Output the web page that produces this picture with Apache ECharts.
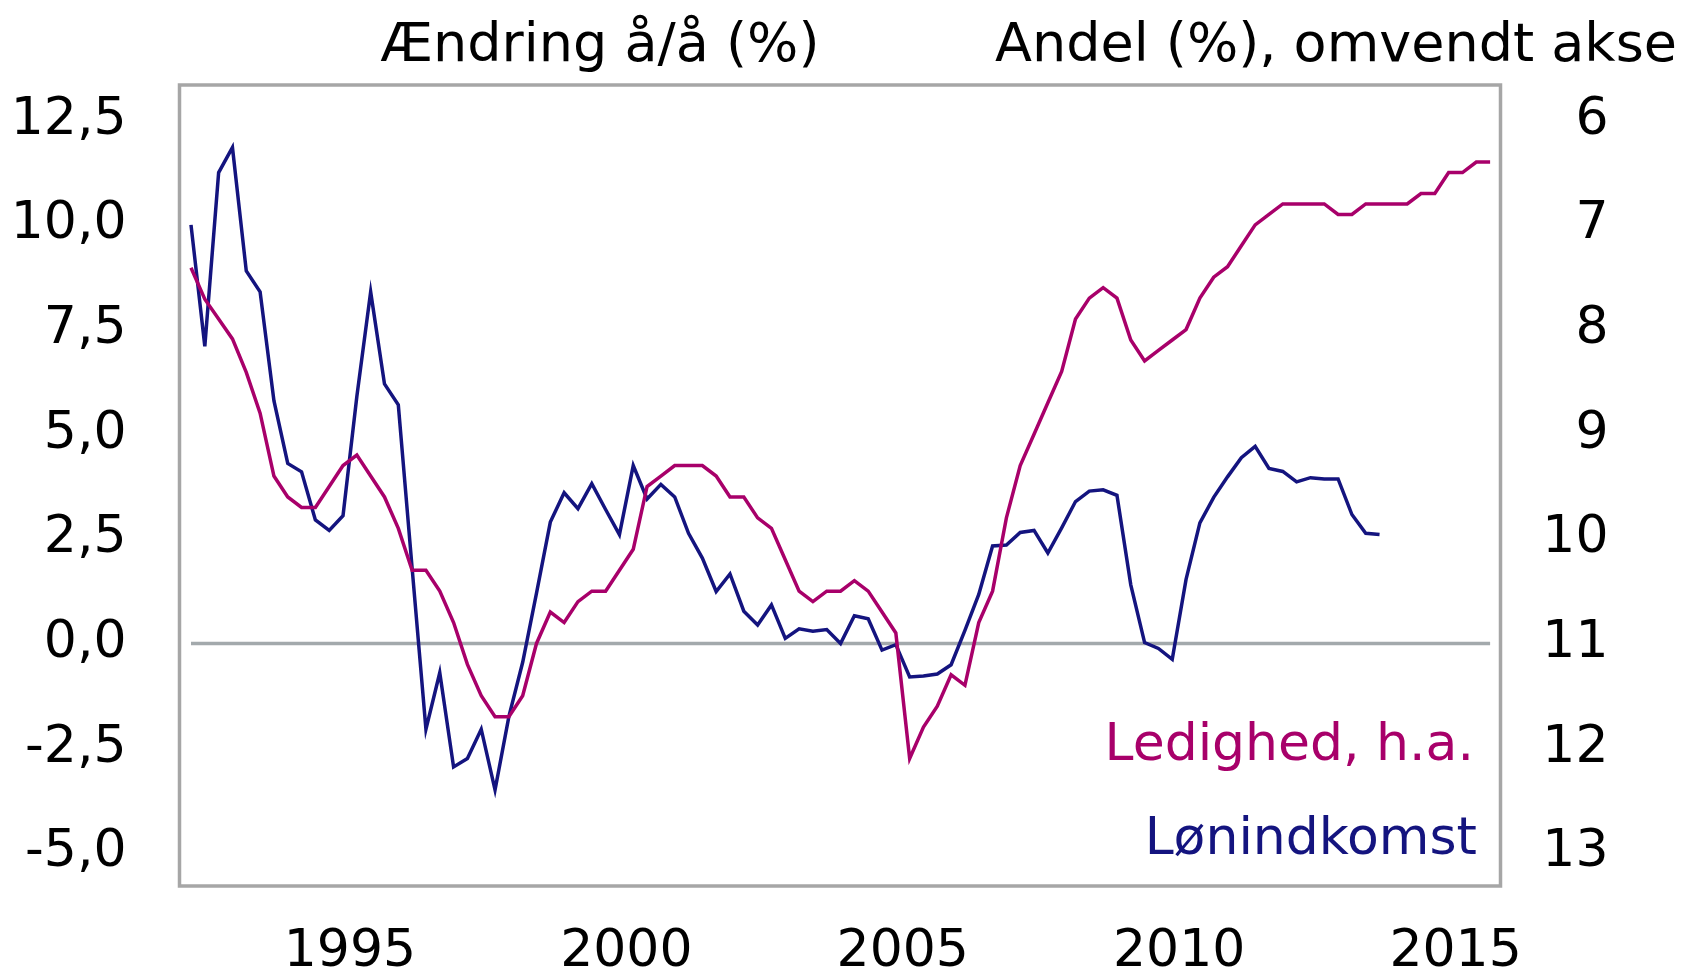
<html>
<meta charset="UTF-8">
<head>
    <script src="https://cdn.jsdelivr.net/npm/echarts@6.0.0/dist/echarts.min.js"></script>
    <style>
        html, body { margin: 0; padding: 0; background: #fff; }
    </style>
</head>
<body>

<div id="chart" style="width:1683px;height:973px;"></div>

</body>
<script>
    // kvartalsdata, første kvartal 1992K1
    var startAar = 1992;

    // Lønindkomst, ændring å/å (%) - venstre akse
    var loenindkomst = [
        10.0, 7.1, 11.25, 11.85, 8.9, 8.4, 5.8, 4.3, 4.1, 2.95,
        2.7, 3.05, 5.9, 8.4, 6.2, 5.7, 1.8, -2.05, -0.7, -2.95,
        -2.75, -2.05, -3.5, -1.75, -0.45, 1.2, 2.9, 3.6, 3.22, 3.82,
        3.2, 2.6, 4.25, 3.45, 3.8, 3.5, 2.63, 2.04, 1.24, 1.66,
        0.77, 0.44, 0.92, 0.12, 0.35, 0.29, 0.33, 0.0, 0.66, 0.59,
        -0.16, -0.03, -0.8, -0.78, -0.73, -0.51, 0.31, 1.17, 2.33, 2.35,
        2.65, 2.7, 2.16, 2.76, 3.39, 3.64, 3.67, 3.54, 1.4, 0.02,
        -0.12, -0.38, 1.53, 2.88, 3.49, 3.98, 4.44, 4.71, 4.18, 4.11,
        3.86, 3.96, 3.93, 3.93, 3.08, 2.63, 2.6
    ];

    // Ledighed, andel (%) - højre akse, omvendt
    var ledighed = [
        7.41, 7.71, 7.9, 8.09, 8.41, 8.8, 9.4, 9.6, 9.7, 9.7,
        9.5, 9.3, 9.2, 9.4, 9.6, 9.9, 10.3, 10.3, 10.5, 10.8,
        11.2, 11.5, 11.7, 11.7, 11.5, 11.0, 10.7, 10.8, 10.6, 10.5,
        10.5, 10.3, 10.1, 9.5, 9.4, 9.3, 9.3, 9.3, 9.4, 9.6,
        9.6, 9.8, 9.9, 10.2, 10.5, 10.6, 10.5, 10.5, 10.4, 10.5,
        10.7, 10.9, 12.1, 11.8, 11.6, 11.3, 11.4, 10.8, 10.5, 9.8,
        9.3, 9.0, 8.7, 8.4, 7.9, 7.7, 7.6, 7.7, 8.1, 8.3,
        8.2, 8.1, 8.0, 7.7, 7.5, 7.4, 7.2, 7.0, 6.9, 6.8,
        6.8, 6.8, 6.8, 6.9, 6.9, 6.8, 6.8, 6.8, 6.8, 6.7,
        6.7, 6.5, 6.5, 6.4, 6.4
    ];

    var aarTicks = [1995, 2000, 2005, 2010, 2015];
    var venstreTicks = [-5, -2.5, 0, 2.5, 5, 7.5, 10, 12.5];
    var hoejreTicks = [6, 7, 8, 9, 10, 11, 12, 13];

    var blaa = '#14147f';
    var lilla = '#a8006a';
    var graa = '#a6a6a6';

    function tid(i) {
        // midt i kvartalet
        return startAar + (i + 0.5) / 4;
    }

    function tilPunkter(arr) {
        var res = [];
        for (var i = 0; i < arr.length; i++) {
            res.push([tid(i), arr[i]]);
        }
        return res;
    }

    var nulLinje = [[tid(0), 0], [tid(ledighed.length - 1), 0]];

    var chart = echarts.init(document.getElementById('chart'));

    var option = {
        animation: false,
        backgroundColor: '#fff',
        textStyle: {fontFamily: 'DejaVu Sans'},
        grid: {
            left: 179.5,
            top: 85,
            width: 1321,
            height: 801,
            outerBoundsMode: 'none',
            containLabel: false,
            show: true,
            borderColor: graa,
            borderWidth: 3.5,
            backgroundColor: 'transparent'
        },
        xAxis: {
            type: 'value',
            min: 1991.917,
            max: 2015.813,
            axisLine: {show: false},
            axisTick: {show: false},
            splitLine: {show: false},
            axisLabel: {
                customValues: aarTicks,
                margin: 66,
                verticalAlign: 'middle',
                lineHeight: 52,
                fontSize: 52,
                color: '#000',
                fontFamily: 'DejaVu Sans',
                formatter: function (v) {
                    return String(Math.round(v));
                }
            }
        },
        yAxis: [
            {
                type: 'value',
                min: -5.796,
                max: 13.343,
                axisLine: {show: false},
                axisTick: {show: false},
                splitLine: {show: false},
                axisLabel: {
                    customValues: venstreTicks,
                    margin: 53,
                    fontSize: 52,
                    padding: [8, 0, 0, 0],
                    color: '#000',
                    fontFamily: 'DejaVu Sans',
                    formatter: function (v) {
                        return v.toFixed(1).replace('.', ',');
                    }
                }
            },
            {
                type: 'value',
                position: 'right',
                inverse: true,
                min: 5.663,
                max: 13.318,
                axisLine: {show: false},
                axisTick: {show: false},
                splitLine: {show: false},
                axisLabel: {
                    customValues: hoejreTicks,
                    margin: 108,
                    align: 'right',
                    fontSize: 52,
                    padding: [8, 0, 0, 0],
                    color: '#000',
                    fontFamily: 'DejaVu Sans',
                    formatter: function (v) {
                        return String(Math.round(v));
                    }
                }
            }
        ],
        series: [
            {
                name: 'nul',
                type: 'line',
                data: nulLinje,
                symbol: 'none',
                silent: true,
                lineStyle: {color: '#a3a9ac', width: 3.5}
            },
            {
                name: 'Lønindkomst',
                type: 'line',
                data: tilPunkter(loenindkomst),
                symbol: 'none',
                lineStyle: {color: blaa, width: 3.5, join: 'miter'}
            },
            {
                name: 'Ledighed, h.a.',
                type: 'line',
                yAxisIndex: 1,
                data: tilPunkter(ledighed),
                symbol: 'none',
                lineStyle: {color: lilla, width: 3.5, join: 'miter'}
            }
        ],
        graphic: [
            {
                type: 'text',
                x: 600, y: 47,
                style: {
                    text: 'Ændring å/å (%)',
                    font: '54px "DejaVu Sans"',
                    fill: '#000',
                    align: 'center',
                    verticalAlign: 'middle'
                }
            },
            {
                type: 'text',
                x: 1677, y: 47,
                style: {
                    text: 'Andel (%), omvendt akse',
                    font: '54px "DejaVu Sans"',
                    fill: '#000',
                    align: 'right',
                    verticalAlign: 'middle'
                }
            },
            {
                type: 'text',
                x: 1474, y: 746,
                style: {
                    text: 'Ledighed, h.a.',
                    font: '52px "DejaVu Sans"',
                    fill: lilla,
                    align: 'right',
                    verticalAlign: 'middle'
                }
            },
            {
                type: 'text',
                x: 1477, y: 840,
                style: {
                    text: 'Lønindkomst',
                    font: '52px "DejaVu Sans"',
                    fill: blaa,
                    align: 'right',
                    verticalAlign: 'middle'
                }
            }
        ]
    };

    chart.setOption(option);
</script>
</html>
